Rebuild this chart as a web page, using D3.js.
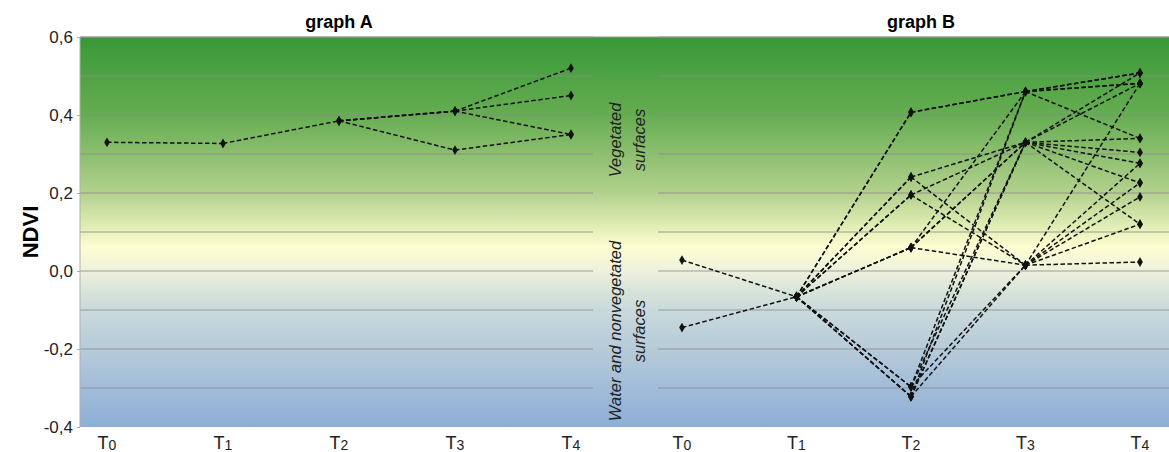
<!DOCTYPE html>
<html>
<head>
<meta charset="utf-8">
<script src="https://cdn.jsdelivr.net/npm/d3@7"></script>
<style>
body { margin: 0; background: #fff; }
text { font-family: "Liberation Sans", Arial, sans-serif; }
</style>
</head>
<body>
<svg></svg>
<script>
// categories and ticks
var times = ["T0", "T1", "T2", "T3", "T4"];
var yTicks = [-0.4, -0.2, 0.0, 0.2, 0.4, 0.6];
var gridVals = [-0.3, -0.2, -0.1, 0.0, 0.1, 0.2, 0.3, 0.4, 0.5, 0.6];

// graph A series (NDVI at T0..T4), null = no point
var seriesA1 = [0.330, 0.327, 0.385, 0.410, 0.520];
var seriesA2 = [null, null, 0.385, 0.410, 0.450];
var seriesA3 = [null, null, 0.385, 0.410, 0.350];
var seriesA4 = [null, null, 0.385, 0.310, 0.350];

// graph B series
var seriesB = [
    [0.028, -0.066, 0.407, 0.460, 0.508],
    [-0.145, -0.066, 0.407, 0.460, 0.481],
    [null, -0.066, 0.060, 0.460, 0.340],
    [null, -0.066, 0.241, 0.330, 0.340],
    [null, -0.066, 0.241, 0.015, 0.226],
    [null, -0.066, 0.195, 0.330, 0.304],
    [null, -0.066, 0.195, 0.015, 0.190],
    [null, -0.066, 0.060, 0.330, 0.276],
    [null, -0.066, 0.060, 0.015, 0.023],
    [null, -0.066, -0.297, 0.460, 0.508],
    [null, -0.066, -0.322, 0.330, 0.226],
    [null, -0.066, -0.297, 0.015, 0.120],
    [null, -0.066, -0.322, 0.460, 0.481],
    [null, -0.066, -0.322, 0.330, 0.120],
    [null, null, -0.297, 0.330, 0.508],
    [null, null, -0.322, 0.015, 0.481],
    [null, null, 0.060, 0.330, 0.481],
    [null, null, null, 0.015, 0.276]
];

// background colour bands (NDVI value -> colour)
var bandVals = [0.6, 0.4, 0.2, 0.1, 0.06, 0.0, -0.05, -0.1, -0.2, -0.4];
var bandCols = ["#379935", "#66ad52", "#b3d18d", "#e9f2bc", "#fdfdd2", "#eef1dc", "#d8e4da", "#c9dadc", "#b6cbd9", "#8daed7"];

var svg = d3.select("svg").attr("width", 1169).attr("height", 452);

var yScale = d3.scaleLinear().domain([-0.4, 0.6]).range([427, 37]);
var xA = d3.scalePoint().domain(times).range([107, 571]);
var xB = d3.scalePoint().domain(times).range([682, 1140]);
var plotA = [80, 593];
var plotB = [658, 1169];

// gradient
var grad = svg.append("defs").append("linearGradient")
    .attr("id", "bg")
    .attr("gradientUnits", "userSpaceOnUse")
    .attr("x1", 0).attr("x2", 0)
    .attr("y1", yScale(0.6)).attr("y2", yScale(-0.4));
bandVals.forEach(function(v, i){
    grad.append("stop")
        .attr("offset", (yScale(v) - yScale(0.6)) / (yScale(-0.4) - yScale(0.6)))
        .attr("stop-color", bandCols[i]);
});

svg.append("rect")
    .attr("x", plotA[0]).attr("y", yScale(0.6))
    .attr("width", plotB[1] - plotA[0])
    .attr("height", yScale(-0.4) - yScale(0.6))
    .attr("fill", "url(#bg)");

// gridlines in each panel
[plotA, plotB].forEach(function(p){
    svg.append("g").selectAll("line")
        .data(gridVals)
        .enter().append("line")
        .attr("x1", p[0]).attr("x2", p[1])
        .attr("y1", function(d){ return yScale(d); })
        .attr("y2", function(d){ return yScale(d); })
        .attr("stroke", "#8a8a8a")
        .attr("stroke-opacity", 0.8)
        .attr("stroke-width", 1);
});
svg.append("line")
    .attr("x1", plotA[0]).attr("x2", plotB[1])
    .attr("y1", yScale(0.6)).attr("y2", yScale(0.6))
    .attr("stroke", "#9a9a9a");
svg.append("line")
    .attr("x1", plotA[0]).attr("x2", plotA[0])
    .attr("y1", yScale(0.6)).attr("y2", yScale(-0.4))
    .attr("stroke", "#b0b0b0");

// y axis
var yAxis = d3.axisLeft(yScale)
    .tickValues(yTicks)
    .tickSize(3)
    .tickFormat(function(d){ return d3.format(".1f")(d).replace(".", ",").replace("−", "-"); });
var yg = svg.append("g")
    .attr("transform", "translate(" + plotA[0] + ",0)")
    .call(yAxis);
yg.select(".domain").remove();
yg.selectAll(".tick line").attr("stroke", "#aaa");
yg.selectAll("text")
    .attr("x", -7)
    .attr("font-size", 17)
    .attr("fill", "#222")
    .style("font-family", "'Liberation Sans', Arial, sans-serif");

svg.append("text")
    .attr("transform", "translate(38," + yScale(0.1) + ") rotate(-90)")
    .attr("text-anchor", "middle")
    .attr("font-size", 22)
    .attr("font-weight", "bold")
    .text("NDVI");

// x tick labels with subscripts
function xLabels(x){
    var g = svg.append("g");
    var t = g.selectAll("text").data(times).enter().append("text")
        .attr("x", function(d){ return x(d); })
        .attr("y", 449)
        .attr("text-anchor", "middle")
        .attr("font-size", 18)
        .attr("fill", "#222");
    t.append("tspan").text("T");
    t.append("tspan").attr("font-size", 14).attr("dy", 1).text(function(d){ return d.slice(1); });
}
xLabels(xA);
xLabels(xB);

// titles
svg.append("text").attr("x", 339).attr("y", 28).attr("text-anchor", "middle")
    .attr("font-size", 18).attr("font-weight", "bold").text("graph A");
svg.append("text").attr("x", 921).attr("y", 28).attr("text-anchor", "middle")
    .attr("font-size", 18).attr("font-weight", "bold").text("graph B");

// gap annotations
function sideNote(lines, cy){
    var t = svg.append("text")
        .attr("transform", "translate(627," + cy + ") rotate(-90)")
        .attr("text-anchor", "middle")
        .attr("font-size", 16.5)
        .attr("font-style", "italic")
        .attr("fill", "#222");
    lines.forEach(function(l, i){
        t.append("tspan").attr("x", 0).attr("dy", i == 0 ? -6 : 24).text(l);
    });
}
sideNote(["Vegetated", "surfaces"], 140);
sideNote(["Water and nonvegetated", "surfaces"], 331);

// lines (one per segment so overlapping dashes line up) + markers
var drawSeries = function(values, x){
    var pts = values.map(function(v, i){ return {t: times[i], v: v}; })
        .filter(function(d){ return d.v !== null; });
    var segs = d3.pairs(pts);
    svg.append("g").selectAll("line")
        .data(segs)
        .enter().append("line")
        .attr("x1", function(d){ return x(d[0].t); })
        .attr("y1", function(d){ return yScale(d[0].v); })
        .attr("x2", function(d){ return x(d[1].t); })
        .attr("y2", function(d){ return yScale(d[1].v); })
        .attr("stroke", "#111")
        .attr("stroke-width", 1.5)
        .attr("stroke-dasharray", "4.5,2.5");
    svg.append("g").selectAll("path")
        .data(pts)
        .enter().append("path")
        .attr("d", d3.symbol().type(d3.symbolDiamond).size(28))
        .attr("transform", function(d){ return "translate(" + x(d.t) + "," + yScale(d.v) + ")"; })
        .attr("fill", "#111");
};

[seriesA1, seriesA2, seriesA3, seriesA4].forEach(function(s){ drawSeries(s, xA); });
seriesB.forEach(function(s){ drawSeries(s, xB); });
</script>
</body>
</html>
